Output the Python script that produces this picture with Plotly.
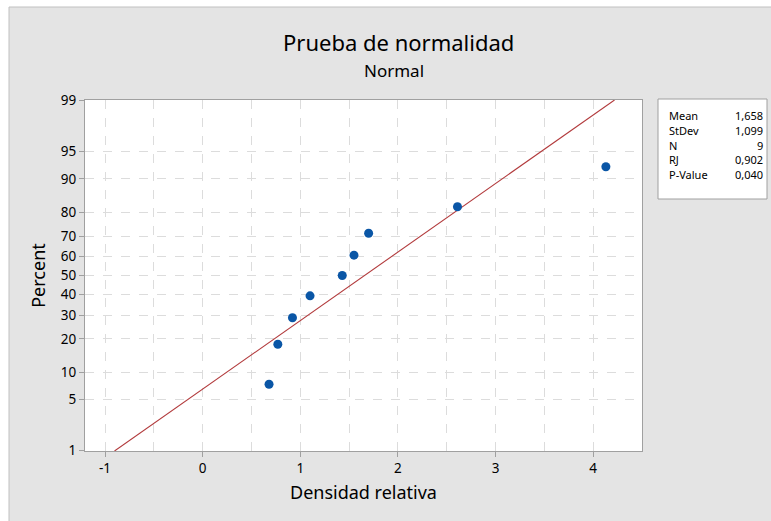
import plotly.graph_objects as go
from statistics import NormalDist

# ---- data ----
densidad = [0.68, 0.77, 0.92, 1.10, 1.43, 1.55, 1.70, 2.61, 4.13]
mean_val = 1.658
stdev_val = 1.099
n_val = 9
rj_val = 0.902
p_val = 0.040
pct_ticks = [1, 5, 10, 20, 30, 40, 50, 60, 70, 80, 90, 95, 99]
stat_labels = ["Mean", "StDev", "N", "RJ", "P-Value"]
stat_values = ["1,658", "1,099", "9", "0,902", "0,040"]

nd = NormalDist()
n = len(densidad)
xs = sorted(densidad)
# median ranks (Minitab default)
probs = [(i + 1 - 0.3) / (n + 0.4) for i in range(n)]
zs = [nd.inv_cdf(p) for p in probs]
pct = [p * 100 for p in probs]

zlo, zhi = -2.33, 2.33
line_z = [zlo + (zhi - zlo) * k / 50 for k in range(51)]
line_x = [mean_val + stdev_val * z for z in line_z]

FONT = "Noto Sans"
TXT = "#000000"
L, R, T, B = 85, 642, 100, 451
W, H = 771, 521
def px(x):
    return (x - L) / (R - L)
def py(y):
    return (B - y) / (B - T)

fig = go.Figure()
fig.add_trace(go.Scatter(x=line_x, y=line_z, mode="lines",
                         line=dict(color="#b23a3c", width=1.1),
                         hoverinfo="skip", showlegend=False))
fig.add_trace(go.Scatter(x=xs, y=zs, mode="markers",
                         marker=dict(color="#0a56a6", size=9),
                         customdata=pct,
                         hovertemplate="%{x}<br>%{customdata:.1f}%<extra></extra>",
                         showlegend=False))

shapes = [
    # white strips at left and top of the image
    dict(type="rect", xref="paper", yref="paper", x0=px(0), x1=px(9), y0=py(W), y1=py(0),
         fillcolor="white", line=dict(width=0), layer="below"),
    dict(type="rect", xref="paper", yref="paper", x0=px(0), x1=px(W), y0=py(7), y1=py(0),
         fillcolor="white", line=dict(width=0), layer="below"),
    dict(type="line", xref="paper", yref="paper", x0=px(9), x1=px(9), y0=py(W), y1=py(7),
         line=dict(color="#c0c0c0", width=1)),
    dict(type="line", xref="paper", yref="paper", x0=px(9), x1=px(W), y0=py(7), y1=py(7),
         line=dict(color="#c0c0c0", width=1)),
    # stats box
    dict(type="rect", xref="paper", yref="paper", x0=px(658), x1=px(767), y0=py(199), y1=py(99),
         fillcolor="white", line=dict(color="#a0a0a0", width=1)),
]

annotations = [
    dict(text="Prueba de normalidad", x=px(398), y=py(42), xref="paper", yref="paper",
         showarrow=False, xanchor="center", yanchor="middle",
         font=dict(family=FONT, size=22, color=TXT)),
    dict(text="Normal", x=px(394), y=py(70), xref="paper", yref="paper",
         showarrow=False, xanchor="center", yanchor="middle",
         font=dict(family=FONT, size=17, color=TXT)),
]
row_y = [115.5, 130.3, 145, 159.8, 174.5]
for lab, val, yy in zip(stat_labels, stat_values, row_y):
    annotations.append(dict(text=lab, x=px(667), y=py(yy), xref="paper", yref="paper",
                            showarrow=False, xanchor="left", yanchor="middle",
                            font=dict(family=FONT, size=11, color=TXT)))
    annotations.append(dict(text=val, x=px(765), y=py(yy), xref="paper", yref="paper",
                            showarrow=False, xanchor="right", yanchor="middle",
                            font=dict(family=FONT, size=11, color=TXT)))

fig.update_layout(
    width=W, height=H,
    margin=dict(l=L, r=W - R, t=T, b=H - B),
    paper_bgcolor="#e4e4e4",
    plot_bgcolor="white",
    shapes=shapes,
    annotations=annotations,
    font=dict(family=FONT, color=TXT),
    xaxis=dict(range=[-1.205, 4.5], tickvals=[-1, 0, 1, 2, 3, 4], ticktext=["-1", "0", "1", "2", "3", "4"],
               showgrid=True, gridcolor="#dcdcdc", griddash="dash", gridwidth=1,
               minor=dict(dtick=0.5, tick0=0, showgrid=True, gridcolor="#dcdcdc", griddash="dash"),
               zeroline=False, showline=True, linecolor="#a0a0a0", mirror=True,
               ticks="outside", ticklen=5, tickcolor="#a0a0a0",
               tickfont=dict(family=FONT, size=13.5, color=TXT),
               title=dict(text="Densidad relativa", font=dict(family=FONT, size=18, color=TXT),
                          standoff=10)),
    yaxis=dict(range=[zlo, zhi], tickvals=[nd.inv_cdf(p / 100) for p in pct_ticks],
               ticktext=[str(p) for p in pct_ticks],
               showgrid=True, gridcolor="#dcdcdc", griddash="dash", gridwidth=1,
               zeroline=False, showline=True, linecolor="#a0a0a0", mirror=True,
               ticks="outside", ticklen=5, tickcolor="#a0a0a0",
               tickfont=dict(family=FONT, size=13.5, color=TXT),
               title=dict(text="Percent", font=dict(family=FONT, size=18, color=TXT),
                          standoff=10)),
)

fig.write_html("out.html", config={"displayModeBar": False},
               post_script="document.body.style.margin='0';document.body.style.overflow='hidden';")
